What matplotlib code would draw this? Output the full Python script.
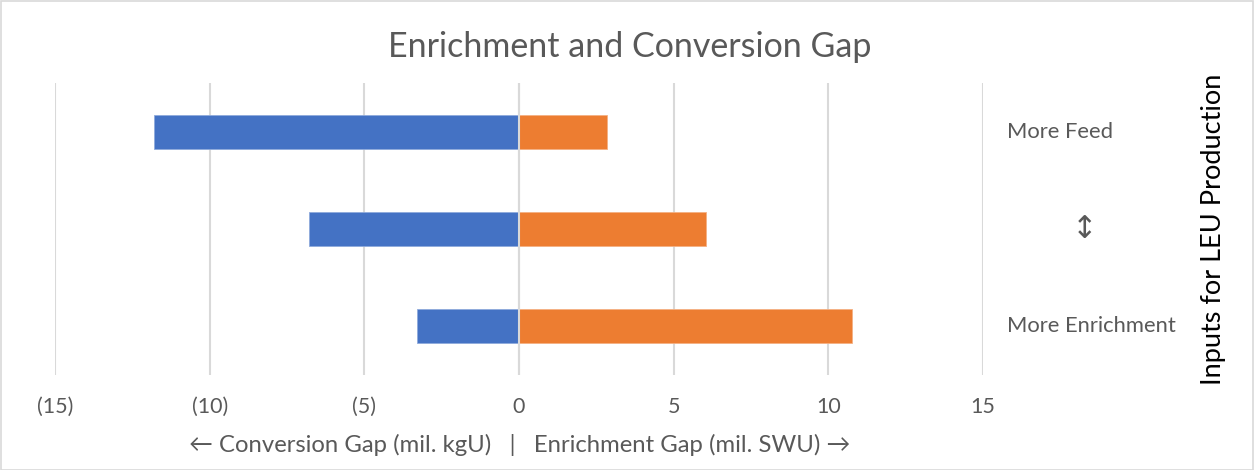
import matplotlib
matplotlib.use("Agg")
import matplotlib.pyplot as plt
from matplotlib.patches import Rectangle

categories = ["More Feed", "\u2195", "More Enrichment"]
conversion_gap = [-11.8, -6.8, -3.3]
enrichment_gap = [2.85, 6.05, 10.75]
xticks = [-15, -10, -5, 0, 5, 10, 15]
xtick_labels = ["(15)", "(10)", "(5)", "0", "5", "10", "15"]

plt.rcParams['font.family'] = ['Lato', 'DejaVu Sans']

fig = plt.figure(figsize=(12.54, 4.70), dpi=100)
ax = fig.add_axes([0.0439, 0.2021, 0.7400, 0.6213])

y = list(range(len(categories)))
ax.barh(y, conversion_gap, height=0.35, color="#4472C4", edgecolor="#8faadc", linewidth=0.6, zorder=3)
ax.barh(y, enrichment_gap, height=0.35, color="#ED7D31", edgecolor="#f4b183", linewidth=0.6, zorder=3)

ax.set_xlim(-15, 15)
ax.set_ylim(2.5, -0.5)
ax.set_xticks(xticks)
ax.set_xticklabels(xtick_labels, color="#595959", fontsize=15.5)
ax.tick_params(axis='x', length=0, pad=16)
ax.set_yticks([])
ax.grid(axis='x', color="#d9d9d9", linewidth=1.5, zorder=1)
ax.axvline(0, color="#d9d9d9", linewidth=1.5, zorder=4)
for s in ax.spines.values():
    s.set_visible(False)

# right-side category labels
lbl_x = [1007, 1085, 1007]
for i, c in enumerate(categories):
    fx = lbl_x[i] / 1254
    yd = ax.transData.transform((0, i))[1]
    fy = fig.transFigure.inverted().transform((0, yd))[1]
    if i == 1:
        fig.text(fx, fy, c, ha='center', va='center', color="#595959",
                 fontsize=22, family=['DejaVu Sans'])
    else:
        fig.text(fx, fy, c, ha='left', va='center', color="#595959",
                 fontsize=15.8, family=['Lato', 'DejaVu Sans'])

fig.text(1213 / 1254, 1 - 229 / 470, "Inputs for LEU Production", rotation=90,
         ha='center', va='center', color="black", fontsize=19.5)

fig.text(630 / 1254, 1 - 47 / 470, "Enrichment and Conversion Gap",
         ha='center', va='center', color="#595959", fontsize=24.5)

fig.text(520 / 1254, 1 - 445 / 470,
         "\u2190 Conversion Gap (mil. kgU)   |   Enrichment Gap (mil. SWU) \u2192",
         ha='center', va='center', color="#595959", fontsize=17.2,
         family=['Lato', 'DejaVu Sans'])

fig.patches.append(Rectangle((0.5 / 1254, 0.5 / 470), 1 - 1.5 / 1254, 1 - 1.5 / 470,
                             transform=fig.transFigure, fill=False,
                             edgecolor="#d9d9d9", linewidth=1.2))

fig.savefig("out.png", dpi=100)
